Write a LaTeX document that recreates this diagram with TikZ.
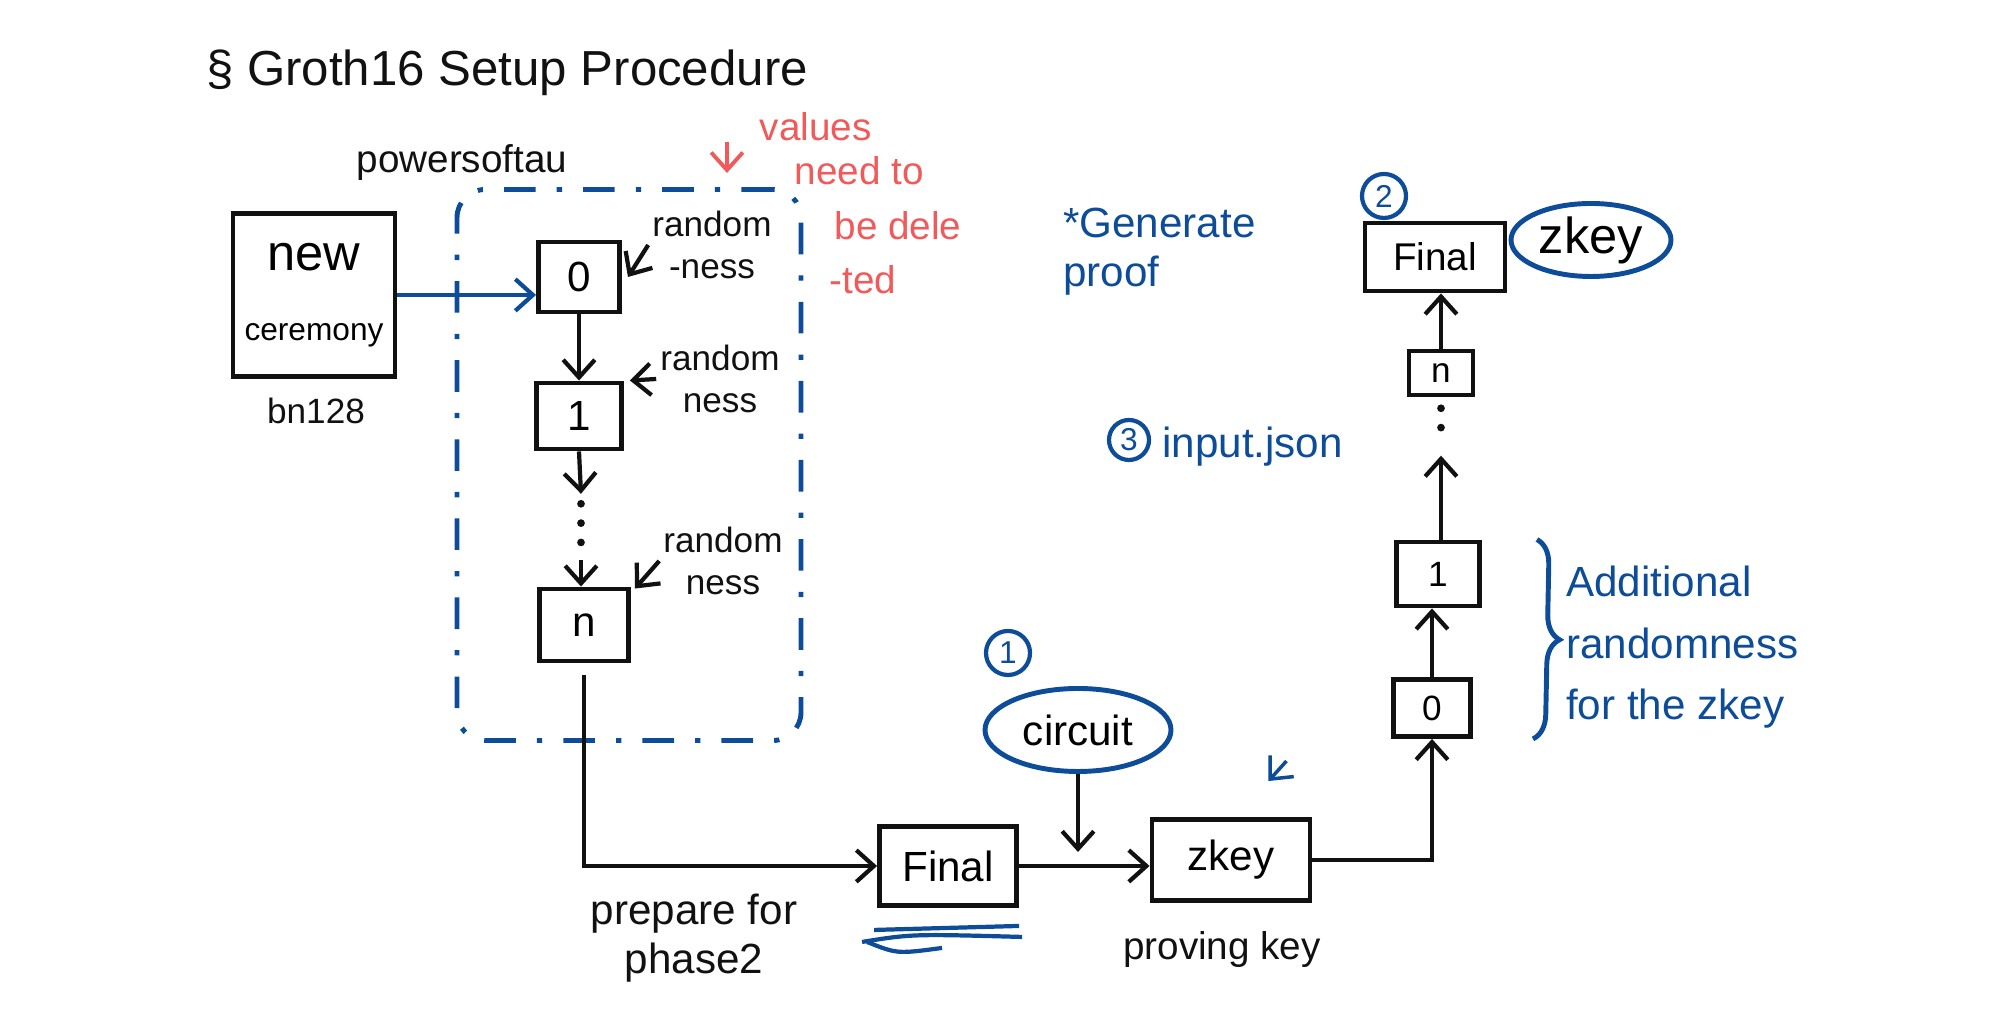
\documentclass[tikz,border=0pt]{standalone}
\usepackage{fontspec}
\setmainfont{Liberation Sans}
\usepackage{xcolor}
\definecolor{inkblack}{HTML}{111111}
\definecolor{inkblue}{HTML}{0D4C98}
\definecolor{inkred}{HTML}{F05A5A}
\usepackage{tikz}
\usetikzlibrary{arrows.meta,positioning,calc,shapes.geometric,
                decorations.pathreplacing}

\begin{document}
\begin{tikzpicture}[
  box/.style={draw=inkblack, line width=1.4pt, fill=white, inner sep=0pt,
              align=center, font=\large},
  note/.style={align=center, text=inkblack, inner sep=1pt},
  bnote/.style={align=left, text=inkblue, font=\large, inner sep=1pt},
  tag/.style={draw=inkblue, line width=1.2pt, circle, minimum size=0.44cm,
              inner sep=0pt, text=inkblue, font=\small},
  blob/.style={draw=inkblue, line width=1.4pt, ellipse, inner sep=0pt},
  gap/.style={inner sep=0pt, minimum width=0.1cm},
  dotline/.style={draw=inkblack, line width=2.2pt, line cap=round,
                  dash pattern=on 0pt off 5.5pt},
  conn/.style={draw=inkblack, line width=1.2pt,
               -{Straight Barb[length=5pt,width=9pt]}},
  bconn/.style={conn, draw=inkblue}
]
  \useasboundingbox (0,0) rectangle (20,10.34);

  % title
  \node[note, font=\fontsize{14}{16}\selectfont] (title) at (5.07,9.61)
    {\S\ Groth16 Setup Procedure};

  % phase 1: powers of tau
  \node[note, font=\fontsize{11}{13}\selectfont] (ptau) at (4.62,8.71) {powersoftau};
  \node[draw=inkblue, line width=1.4pt, rounded corners=8pt,
        dash pattern=on 9pt off 6pt on 1.5pt off 6pt,
        minimum width=3.44cm, minimum height=5.51cm] (ptaubox) at (6.29,5.69) {};

  \node[box, minimum width=1.62cm, minimum height=1.63cm] (cer) at (3.14,7.39)
    {\Large new\\[6pt]\small ceremony};
  \node[note] (bn) at (3.16,6.23) {bn128};

  \node[box, minimum width=0.81cm, minimum height=0.70cm] (t0) at (5.79,7.57) {0};
  \node[box, minimum width=0.85cm, minimum height=0.66cm] (t1) at (5.79,6.18) {1};
  \node[gap, minimum height=0.55cm] (d1) at (5.81,5.02) {};
  \node[box, minimum width=0.89cm, minimum height=0.72cm] (tn) at (5.84,4.09) {n};

  \node[note] (rnd0) at (7.12,7.89) {random\\-ness};
  \node[note] (rnd1) at (7.20,6.55) {random\\ness};
  \node[note] (rndn) at (7.23,4.73) {random\\ness};

  \draw[bconn] (cer.east) -- (t0.west |- cer.east);
  \draw[conn] (t0.south) -- (t1.north);
  \draw[conn] (t1.south) -- ($(d1.north)+(0,0.1)$);
  \draw[dotline] (d1.north) -- (d1.south);
  \draw[conn] (d1.south) -- (tn.north -| d1.south);
  \draw[conn] (rnd0.west) -- ($(t0.east)+(0.06,0)$);
  \draw[conn] (rnd1.west) -- ($(t1.north east)+(0.06,0)$);
  \draw[conn] (rndn.west) -- ($(tn.north east)+(0.04,-0.02)$);

  % red remark
  \node[align=left, text=inkred, inner sep=0pt, anchor=north west,
        font=\fontsize{11}{12.5}\selectfont] (vals) at (7.59,9.22)
    {values\\\hspace*{0.35cm}need to\\[3pt]\hspace*{0.75cm}be dele\\[3pt]\hspace*{0.7cm}-ted};
  \coordinate (vtop) at (7.27,8.92);
  \draw[conn, draw=inkred, line width=1.1pt, shorten >=4pt] (vtop) -- (vtop |- ptaubox.north);

  % phase 2
  \node[note, font=\large] (prep) at (6.94,0.96) {prepare for\\phase2};
  \node[box, minimum width=1.37cm, minimum height=0.79cm] (fin) at (9.48,1.68) {Final};
  \draw[conn] (tn.south) ++(0,-0.12) |- (fin.west);
  \draw[inkblue, line width=1.2pt] ($(fin.south west)+(-0.03,-0.22)$) -- ++(1.45,0.04);
  \draw[inkblue, line width=1.2pt] ($(fin.south west)+(-0.15,-0.34)$)
    .. controls ++(0.5,0.08) .. ++(1.6,0.05);
  \draw[inkblue, line width=1.2pt] ($(fin.south west)+(-0.10,-0.34)$)
    .. controls ++(0.3,-0.12) .. ++(0.75,-0.06);

  \node[blob, minimum width=1.86cm, minimum height=0.83cm, font=\large] (circ)
    at (10.78,3.04) {circuit};
  \node[tag] (c1) at (10.08,3.81) {1};

  \node[box, minimum width=1.58cm, minimum height=0.81cm] (zk) at (12.31,1.74) {zkey};
  \node[note, font=\fontsize{11}{13}\selectfont] (pk) at (12.22,0.84) {proving key};
  \draw[conn] (fin.east) -- (zk.west |- fin.east);
  \coordinate (cj) at ($(circ.south |- fin.east)+(0,0.14)$);
  \draw[conn] (circ.south) -- (cj);
  \draw[bconn, line width=1pt] ($(zk.north east)+(-0.26,0.56)$) -- ($(zk.north east)+(-0.44,0.36)$);

  % contributions to the zkey
  \node[box, font=\normalsize, minimum width=0.77cm, minimum height=0.57cm] (k0) at (14.32,3.26) {0};
  \node[box, font=\normalsize, minimum width=0.83cm, minimum height=0.64cm] (k1) at (14.38,4.60) {1};
  \node[gap, minimum height=0.34cm] (kd) at (14.41,6.08) {};
  \node[box, font=\normalsize, minimum width=0.64cm, minimum height=0.44cm] (kn) at (14.41,6.61) {n};
  \node[box, font=\fontsize{11}{13}\selectfont, minimum width=1.40cm, minimum height=0.68cm]
    (kfin) at (14.35,7.77) {Final};
  \node[blob, minimum width=1.60cm, minimum height=0.73cm, font=\Large] (kzk)
    at (15.91,7.94) {zkey};
  \node[tag] (c2) at (13.84,8.38) {2};

  \draw[conn] (zk.east) -| (k0.south);
  \draw[conn] (k0.north) -- (k1.south -| k0.north);
  \draw[conn] (k1.north -| kd.south) -- ($(kd.south)+(0,-0.12)$);
  \draw[dotline] (kd.north) -- (kd.south);
  \draw[conn] (kn.north) -- (kfin.south -| kn.north);

  \draw[inkblue, line width=1.4pt, decorate, decoration={brace, amplitude=7pt}]
    ($(k1.north east)+(0.55,0)$) -- ($(k0.south east)+(0.6,0)$);
  \node[bnote, anchor=north west, font=\fontsize{12}{17.5}\selectfont] (addl)
    at (15.62,4.72) {Additional\\randomness\\for the zkey};

  % proof generation
  \node[bnote, anchor=north west] (gen) at (10.59,8.30) {*Generate\\proof};
  \node[tag, minimum size=0.40cm] (c3) at (11.29,5.94) {3};
  \node[bnote, right=2pt of c3, yshift=-2pt] (inp) {input.json};

\end{tikzpicture}
\end{document}
